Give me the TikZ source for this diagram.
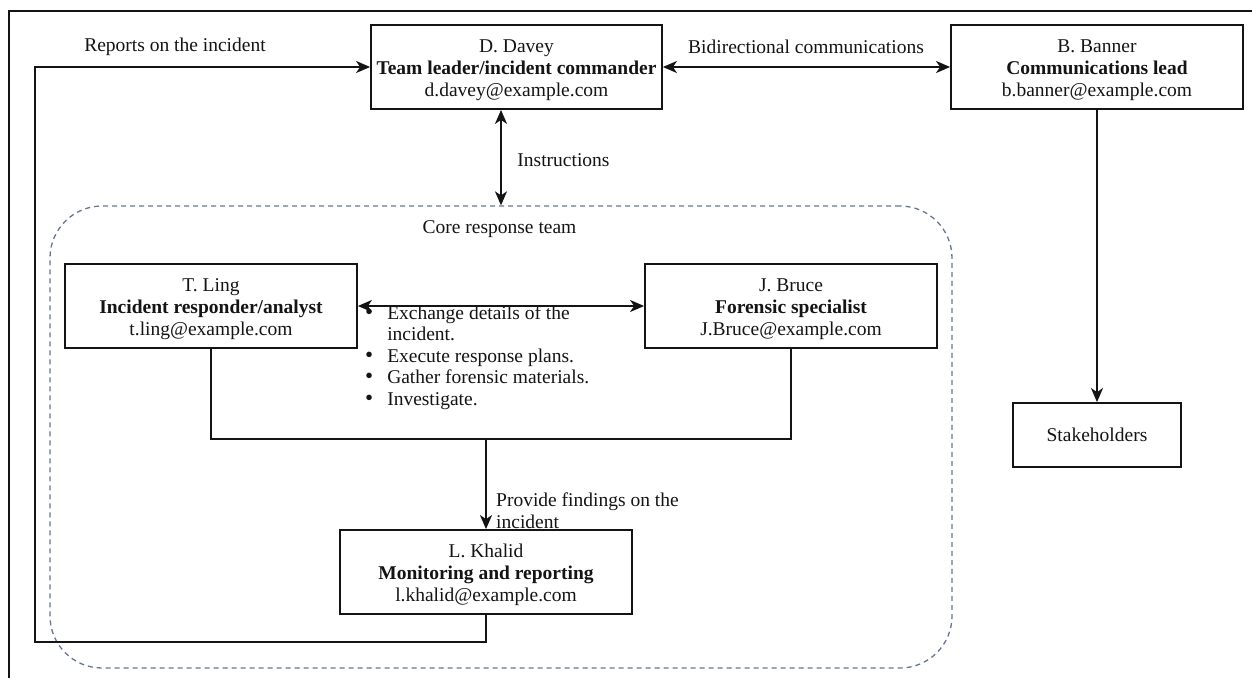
\documentclass[tikz,border=0pt]{standalone}
\usepackage{fontspec}
\setmainfont{Liberation Serif}
\usetikzlibrary{arrows.meta}
\definecolor{dashcol}{RGB}{100,118,148}
\definecolor{inkcol}{RGB}{20,20,20}
\tikzset{
  txt/.style={font=\fontsize{19.5}{22}\selectfont, text=inkcol, inner sep=0pt},
  rolebox/.style={txt, draw=inkcol, line width=1.8pt, align=center, minimum width=292pt, minimum height=84pt},
  conn/.style={draw=inkcol, line width=1.8pt},
  onehead/.style={-{Stealth[length=14pt,width=12pt,inset=4pt]}},
  twoheads/.style={{Stealth[length=14pt,width=12pt,inset=4pt]}-{Stealth[length=14pt,width=12pt,inset=4pt]}},
}
\newcommand{\boxstrut}{\rule{0pt}{20pt}}
\newcommand{\bul}{{\fontsize{23}{21.5}\selectfont\textbullet}}
\begin{document}
\begin{tikzpicture}[x=1pt,y=-1pt]
\useasboundingbox (0,0) rectangle (1252,678);
% frame
\coordinate (fr1) at (1252,11);
\coordinate (fr2) at (9,11);
\coordinate (fr3) at (9,678);
\draw[draw=inkcol, line width=1.5pt] (fr1) -- (fr2) -- (fr3);

% container
\node[draw=dashcol, line width=1.3pt, dash pattern=on 5pt off 4pt, rounded corners=52pt,
      minimum width=902pt, minimum height=462pt, inner sep=0pt] (core) at (501,437) {};
\node[txt] (corelbl) at (499.5,229) {Core response team};

% boxes
\node[rolebox, minimum width=291pt] (davey) at (516.5,67) {\boxstrut D. Davey\\\textbf{Team leader/incident commander}\\d.davey@example.com};
\node[rolebox] (banner) at (1097,67) {\boxstrut B. Banner\\\textbf{Communications lead}\\b.banner@example.com};
\node[rolebox] (ling) at (211,306) {\boxstrut T. Ling\\\textbf{Incident responder/analyst}\\t.ling@example.com};
\node[rolebox] (bruce) at (791,306) {\boxstrut J. Bruce\\\textbf{Forensic specialist}\\J.Bruce@example.com};
\node[rolebox] (khalid) at (486,572) {\boxstrut L. Khalid\\\textbf{Monitoring and reporting}\\l.khalid@example.com};
\node[rolebox, minimum width=168pt, minimum height=64pt] (stake) at (1097,435) {Stakeholders};

% connectors
\draw[conn, twoheads] (davey.east) -- (banner.west);
\node[txt] (bidi) at (806,47) {Bidirectional communications};

\draw[conn, onehead] (banner.south) -- (stake.north);

\coordinate (ix) at (501,0);
\draw[conn, twoheads] (davey.south -| ix) -- (core.north -| ix);
\node[txt] (instr) at (563.5,160) {Instructions};

\draw[conn, twoheads] (ling.east) -- (bruce.west);

\coordinate (merge) at (486,439);
\draw[conn] (ling.south) -- (ling.south |- merge) -- (bruce.south |- merge) -- (bruce.south);
\draw[conn, onehead] (merge) -- (khalid.north);
\node[txt, anchor=west, align=left] (find) at (496,511) {Provide findings on the\\incident};

\coordinate (fb) at (35,642);
\draw[conn, onehead] (khalid.south) |- (fb) |- (davey.west);
\node[txt] (reports) at (175,47) {Reports on the incident};

% bullet list
\node[txt, anchor=base west, font=\fontsize{19.5}{21.5}\selectfont] (tasks) at (365,319)
 {\begin{tabular}[t]{@{}l@{\hspace{14pt}}l@{}}
  \bul & Exchange details of the\\
   & incident.\\
  \bul & Execute response plans.\\
  \bul & Gather forensic materials.\\
  \bul & Investigate.
 \end{tabular}};
\end{tikzpicture}
\end{document}
